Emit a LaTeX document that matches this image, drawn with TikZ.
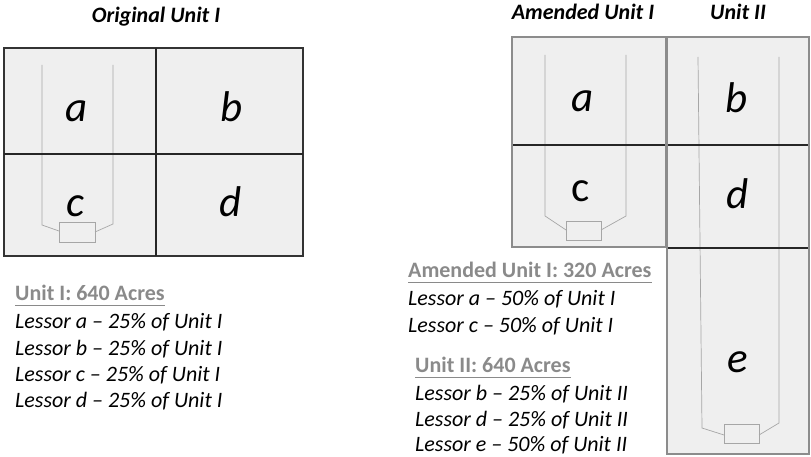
\documentclass[tikz,border=0pt]{standalone}
\usepackage{fontspec}
\setmainfont{Carlito}
\begin{document}
\begin{tikzpicture}[x=1pt,y=-1pt,
  cell/.style={fill=boxfill},
  divider/.style={draw=black!85,line width=1.2pt},
  well/.style={draw=black!35,line width=0.7pt},
  letter/.style={font=\fontsize{43}{43}\selectfont\itshape,inner sep=0,anchor=base},
  title/.style={font=\fontsize{22}{26}\selectfont\bfseries\itshape,inner sep=0},
  head/.style={font=\fontsize{22}{26}\selectfont\bfseries,text=headgray,inner sep=0,anchor=base west},
  lessor/.style={font=\fontsize{22}{26}\selectfont\itshape,inner sep=0,anchor=base west},
  uline/.style={draw=headgray,line width=1pt}]
\definecolor{boxfill}{HTML}{EFEFEF}
\definecolor{headgray}{HTML}{8A8A8A}
\definecolor{framegray}{HTML}{8C8C8C}
\useasboundingbox (0,0) rectangle (811,457);
% ---------- Original Unit I ----------
\node[title] (t1) at (156,17) {Original Unit I};
\fill[boxfill] (4,48) rectangle (303,256);
\draw[well] (42,65) -- (42,225) -- (59,231);
\draw[well] (113,65) -- (113,224) -- (95,232);
\draw[well] (59,222) rectangle (95,242);
\draw[line width=1.2pt,draw=black!80] (4,48) rectangle (303,256);
\draw[divider] (156,48) -- (156,256);
\draw[divider] (4,154) -- (303,154);
\node[letter] (oa) at (77,122) {a};
\node[letter] (ob) at (232,122) {b};
\node[letter] (oc) at (75,217) {c};
\node[letter] (od) at (231,217) {d};
% ---------- Amended Unit I ----------
\node[title] (t2) at (583,12) {Amended Unit I};
\fill[boxfill] (512,37) rectangle (666,247);
\draw[well] (545,55) -- (545,216) -- (566,230);
\draw[well] (626,55) -- (626,216) -- (601,230);
\draw[well] (566,221) rectangle (601,240);
\draw[divider] (512,145) -- (666,145);
\draw[draw=framegray,line width=2.6pt] (512,37) rectangle (666,247);
\node[letter] (aa) at (583,112) {a};
\node[letter,font=\fontsize{43}{43}\selectfont] (ac) at (581,202) {c};
% ---------- Unit II ----------
\node[title] (t3) at (738,12) {Unit II};
\fill[boxfill] (667,37) rectangle (809,454);
\draw[well] (698,57) -- (702,428) -- (724,435);
\draw[well] (779,57) -- (779,423) -- (759,435);
\draw[well] (724,424) rectangle (759,443);
\draw[divider] (667,145) -- (809,145);
\draw[divider] (667,248) -- (809,248);
\draw[draw=framegray,line width=2.6pt] (667,37) rectangle (809,454);
\node[letter] (ub) at (737,113) {b};
\node[letter] (ud) at (738,208) {d};
\node[letter] (ue) at (738,372) {e};
% ---------- Left text ----------
\node[head] (h1) at (15,300) {Unit I: 640 Acres};
\draw[uline] ([yshift=-5pt]h1.base west) -- ([yshift=-5pt]h1.base east);
\node[lessor] (l1) at (15,328) {Lessor a – 25\% of Unit I};
\node[lessor] (l2) at (15,355) {Lessor b – 25\% of Unit I};
\node[lessor] (l3) at (15,381) {Lessor c – 25\% of Unit I};
\node[lessor] (l4) at (15,407) {Lessor d – 25\% of Unit I};
% ---------- Right text ----------
\node[head] (h2) at (408,277) {Amended Unit I: 320 Acres};
\draw[uline] ([yshift=-5pt]h2.base west) -- ([yshift=-5pt]h2.base east);
\node[lessor] (r1) at (408,305) {Lessor a – 50\% of Unit I};
\node[lessor] (r2) at (408,332) {Lessor c – 50\% of Unit I};
\node[head] (h3) at (415,372) {Unit II: 640 Acres};
\draw[uline] ([yshift=-5pt]h3.base west) -- ([yshift=-5pt]h3.base east);
\node[lessor] (r3) at (415,400) {Lessor b – 25\% of Unit II};
\node[lessor] (r4) at (415,426) {Lessor d – 25\% of Unit II};
\node[lessor] (r5) at (415,451) {Lessor e – 50\% of Unit II};
\end{tikzpicture}
\end{document}
